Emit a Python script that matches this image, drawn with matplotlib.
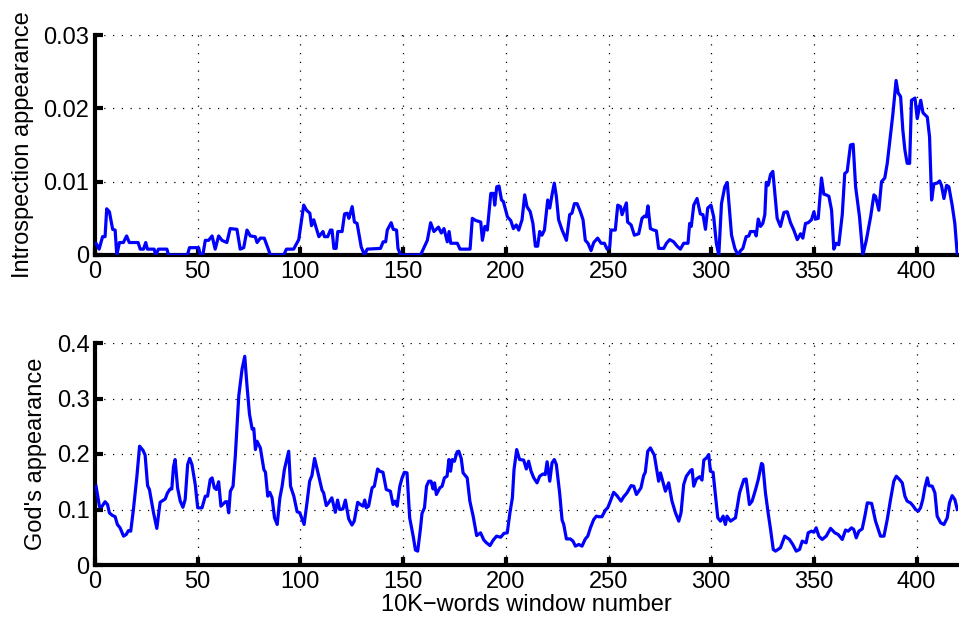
import matplotlib
matplotlib.use("Agg")
import matplotlib.pyplot as plt

plt.rcParams['font.family'] = ['Liberation Sans', 'DejaVu Sans']

# ---- data ----
x_top = [0, 0.5, 2, 3.7, 4.9, 5.7, 7, 8.6, 9.8, 10.6, 11.9, 13.8, 15.4, 16.7, 21, 22, 23.6, 24.7, 25.5, 28.8,
         29.6, 30.9, 35, 35.8, 45, 46, 50.4, 51.3, 52.5, 53.7, 55.3, 57, 58.5, 60.2, 61.8, 64.2, 65.8, 69.1,
         70.7, 72.4, 74, 75.6, 78, 78.9, 80.5, 82.4, 85.4, 91.9, 93.2, 96.7, 99.2, 101.6, 103, 104.6, 105.4,
         106.5, 109, 111, 111.7, 113.3, 114.6, 115.4, 116.3, 117.4, 118.2, 120.3, 121.5, 122.8, 123.6, 125.2,
         126.3, 127.6, 129.6, 131.2, 132.5, 139, 140.3, 141.5, 142.3, 144.2, 145.2, 146.8, 147.5, 148.8, 158.5,
         161.8, 163.4, 165, 167.2, 168.6, 169.9, 171.5, 172.4, 173.2, 176.4, 177.7, 182.6, 183.7, 185.4, 187.8,
         188.6, 189.8, 191, 192.7, 194, 194.6, 195.6, 196.7, 197.9, 198.8, 200.8, 202.4, 203.7, 205.1, 206.3,
         207.9, 209.2, 210.3, 211.9, 213.2, 214.4, 215.5, 216.5, 217.6, 218.8, 220.4, 221.4, 222.5, 223.6,
         224.6, 225.7, 227.4, 229.5, 231.1, 232.2, 233.4, 234.7, 236.3, 237.6, 238.7, 240, 241.5, 242.8, 244.7,
         246.4, 248, 249.3, 250.6, 251.2, 253.3, 254.5, 255.8, 256.6, 258.7, 259.3, 261, 262.6, 264.7, 266.3,
         267.5, 268.4, 269.2, 270.4, 272, 273.3, 274.4, 276.9, 278.2, 279.8, 281.7, 283.4, 285, 286.6, 288.7,
         289.5, 290.3, 291.5, 293.1, 294.7, 296, 297.2, 298.3, 299.9, 301.2, 302.5, 303.7, 305, 306.6, 307.8,
         308.9, 309.9, 311.5, 313, 314.3, 315.4, 317, 318.3, 319.1, 321.2, 321.9, 322.9, 324, 325.1, 326.1,
         326.8, 327.7, 328.9, 330, 331, 332.1, 333.7, 335.4, 337, 338.6, 340.2, 341.9, 343.5, 344.6, 345.9,
         347.2, 348.8, 350, 350.8, 352.1, 353.7, 354.8, 356, 357.3, 358.6, 359.7, 360.8, 362.1, 363.8, 365,
         366.2, 367.8, 369.1, 370.3, 372.2, 373.8, 375.5, 377.6, 379.2, 380, 381.6, 382.9, 384.5, 385.7, 386.8,
         388.4, 390, 391, 392.2, 393.3, 394.3, 395.4, 396.6, 397.5, 399.2, 400.3, 402, 403.1, 405.2, 406.3,
         407.3, 408.4, 410, 411.2, 412.1, 413.3, 414.6, 415.7, 417.3, 418.6, 419.8]
introspection = [0.0016, 0.0016, 0.0008, 0.0025, 0.0025, 0.0063, 0.0059, 0.0035, 0.0034, 0.0, 0.0017, 0.0017,
                 0.0026, 0.0017, 0.0017, 0.0008, 0.0008, 0.0017, 0.0008, 0.0008, 0.0, 0.0008, 0.0008, 0.0, 0.0,
                 0.001, 0.001, 0.0, 0.0, 0.002, 0.002, 0.0026, 0.0008, 0.0026, 0.002, 0.0017, 0.0036, 0.0035,
                 0.0008, 0.001, 0.0034, 0.0026, 0.0025, 0.0017, 0.0023, 0.0023, 0.0, 0.0, 0.0008, 0.0008, 0.0021,
                 0.0068, 0.0061, 0.0057, 0.004, 0.0048, 0.0025, 0.0032, 0.0025, 0.0025, 0.0034, 0.0034, 0.0009,
                 0.0009, 0.0032, 0.0032, 0.0056, 0.0057, 0.005, 0.0066, 0.0045, 0.0043, 0.0011, 0.0, 0.0008,
                 0.0009, 0.0018, 0.0018, 0.0034, 0.0044, 0.0035, 0.0034, 0.0009, 0.0, 0.0, 0.002, 0.0044, 0.0032,
                 0.0038, 0.003, 0.0036, 0.0018, 0.0032, 0.0016, 0.0016, 0.0008, 0.0008, 0.005, 0.0047, 0.0045,
                 0.002, 0.0039, 0.0034, 0.0084, 0.0084, 0.0068, 0.0093, 0.0094, 0.0075, 0.0073, 0.0052, 0.0047,
                 0.0036, 0.0041, 0.0034, 0.0048, 0.0082, 0.0066, 0.0059, 0.0043, 0.0012, 0.0012, 0.0032, 0.0027,
                 0.0034, 0.0075, 0.0064, 0.0082, 0.0098, 0.008, 0.0048, 0.0034, 0.002, 0.0055, 0.0057, 0.007,
                 0.007, 0.0059, 0.0048, 0.002, 0.0016, 0.0006, 0.0017, 0.0023, 0.0016, 0.0016, 0.0008, 0.0011,
                 0.0034, 0.0034, 0.0068, 0.0066, 0.0055, 0.0071, 0.0045, 0.0041, 0.0027, 0.0029, 0.005, 0.0053,
                 0.0052, 0.0067, 0.0036, 0.0034, 0.0033, 0.0009, 0.0009, 0.0016, 0.0021, 0.0018, 0.0012, 0.0008,
                 0.0016, 0.0016, 0.0043, 0.0039, 0.0068, 0.0077, 0.0056, 0.0055, 0.0035, 0.0064, 0.0068, 0.0052,
                 0.0016, 0.0, 0.007, 0.0093, 0.0099, 0.0061, 0.0027, 0.0009, 0.0, 0.0006, 0.0009, 0.0025, 0.0026,
                 0.0032, 0.0032, 0.0026, 0.0049, 0.0039, 0.0043, 0.0055, 0.0099, 0.0095, 0.011, 0.0114, 0.0084,
                 0.005, 0.0039, 0.0058, 0.0059, 0.0044, 0.0034, 0.0021, 0.0029, 0.0023, 0.0043, 0.0044, 0.0048,
                 0.0059, 0.0049, 0.005, 0.0105, 0.0083, 0.0082, 0.008, 0.0061, 0.0008, 0.0016, 0.0014, 0.0055,
                 0.0111, 0.0114, 0.015, 0.0151, 0.0093, 0.0052, 0.0, 0.002, 0.0052, 0.0082, 0.008, 0.0061, 0.01,
                 0.0105, 0.0125, 0.0152, 0.0191, 0.0238, 0.0221, 0.0216, 0.017, 0.0143, 0.0125, 0.0125, 0.0211,
                 0.0214, 0.0186, 0.0211, 0.0194, 0.0188, 0.0161, 0.0075, 0.0097, 0.0098, 0.0101, 0.0095, 0.0077,
                 0.0095, 0.0093, 0.0068, 0.0043, 0.0]

x_bottom = [0.5, 2.2, 3.3, 4.9, 6.1, 7, 8.2, 9.8, 10.9, 12.2, 13.9, 15.2, 16.3, 17.4, 18.7, 20.4, 21.7, 23.3,
            24.4, 25.6, 26.5, 28.5, 30.1, 31.7, 34.2, 35.3, 36.6, 37.4, 38.2, 39, 40.2, 41.5, 42.8, 43.9, 45.1,
            46.1, 47.2, 48.8, 50, 52.1, 53.7, 54.8, 56.1, 57, 58.1, 59.1, 60.2, 61.3, 63.5, 64.3, 65.1, 65.9,
            67.2, 68.3, 70, 71.6, 72.9, 74, 75.2, 76.5, 77.3, 78.1, 78.9, 80.5, 82.2, 83, 84.1, 85.1, 86.2, 87.4,
            88.7, 90, 91.1, 92.2, 94.3, 95.2, 96.8, 98.4, 99.7, 101.8, 103.2, 104.5, 105.6, 106.9, 108, 109.3,
            110.5, 111.3, 112.6, 113.7, 115.3, 117, 118.1, 119.1, 120.7, 121.9, 123.5, 125.1, 126.2, 127.9,
            129.2, 130.5, 131.3, 132.1, 133.2, 134.9, 136, 137.6, 138.6, 140.2, 141.8, 143.8, 145.1, 146.2,
            147.1, 148.4, 149.5, 150.6, 151.9, 153.2, 154.9, 156, 157.1, 158.4, 159.2, 160.4, 161.4, 162.5,
            163.6, 164.6, 165.3, 166.2, 167.9, 169, 170.1, 171.4, 172.3, 173.1, 173.9, 175, 176.3, 177.1, 178.3,
            179.2, 181.2, 182.5, 184.1, 185.8, 187.7, 189.3, 190.6, 192.3, 193.9, 195.5, 197.5, 199.1, 200.7,
            202, 203.2, 204, 205.3, 206.7, 208.7, 210, 211.1, 212.3, 213.6, 215.2, 216.5, 218.1, 219.2, 220.1,
            221.4, 222.5, 223.6, 224.6, 226.2, 227.4, 228.2, 229.5, 231.4, 232.7, 233.9, 235.5, 237.1, 238.7,
            239.9, 241.2, 242.8, 244.1, 245.2, 246.8, 248.5, 249.6, 250.9, 252.5, 254.1, 256.1, 257.4, 259, 261,
            262.3, 263.6, 264.7, 265.8, 267.1, 267.9, 269.1, 270.4, 272.3, 274.4, 275.3, 276.6, 277.7, 279.3,
            280.9, 282.6, 284.2, 285.3, 286.6, 287.9, 289.9, 290.7, 291.5, 292.8, 294.4, 295.5, 296.4, 297.7,
            298.8, 299.6, 300.9, 302, 303.2, 304.5, 305.8, 306.9, 307.7, 309.4, 311.8, 313.8, 315.9, 317, 318.6,
            319.9, 321.6, 322.9, 324.5, 325.1, 326.4, 327.7, 328.9, 330.2, 331.3, 333.7, 335.8, 338.1, 339.7,
            341.4, 343, 344.3, 346.2, 347.2, 348.8, 350, 351.1, 352.4, 354, 356, 358.1, 360.2, 361.8, 363.8,
            365.4, 366.7, 368.3, 369.4, 370.6, 371.9, 373.5, 374.8, 376, 378.1, 380, 382.4, 384.1, 385.7, 387.3,
            388.9, 390.1, 391.7, 393, 394.3, 395.4, 397, 398.2, 399.5, 400.8, 401.9, 403, 404, 405.2, 406, 407.6,
            408.9, 410, 411.7, 413.3, 414.9, 416, 417.3, 418.6, 419.8]
god = [0.142, 0.105, 0.105, 0.114, 0.109, 0.094, 0.09, 0.087, 0.073, 0.067, 0.052, 0.055, 0.062, 0.061, 0.1,
       0.16, 0.214, 0.207, 0.198, 0.143, 0.136, 0.094, 0.066, 0.113, 0.119, 0.13, 0.137, 0.137, 0.177, 0.19,
       0.139, 0.115, 0.104, 0.118, 0.181, 0.192, 0.181, 0.145, 0.103, 0.103, 0.124, 0.124, 0.154, 0.157, 0.139,
       0.136, 0.15, 0.106, 0.114, 0.114, 0.094, 0.133, 0.142, 0.196, 0.305, 0.353, 0.376, 0.323, 0.272, 0.245,
       0.246, 0.208, 0.223, 0.211, 0.172, 0.167, 0.124, 0.131, 0.121, 0.085, 0.073, 0.121, 0.142, 0.172, 0.205,
       0.142, 0.124, 0.096, 0.094, 0.073, 0.112, 0.151, 0.161, 0.192, 0.175, 0.154, 0.135, 0.13, 0.107, 0.112,
       0.121, 0.095, 0.117, 0.1, 0.101, 0.117, 0.083, 0.072, 0.079, 0.113, 0.109, 0.106, 0.117, 0.103, 0.106,
       0.139, 0.142, 0.173, 0.169, 0.167, 0.136, 0.133, 0.109, 0.115, 0.106, 0.142, 0.157, 0.167, 0.166, 0.085,
       0.052, 0.027, 0.025, 0.064, 0.093, 0.103, 0.142, 0.151, 0.151, 0.137, 0.148, 0.127, 0.139, 0.142, 0.157,
       0.16, 0.19, 0.169, 0.19, 0.187, 0.204, 0.205, 0.192, 0.166, 0.157, 0.115, 0.088, 0.053, 0.058, 0.045,
       0.04, 0.035, 0.045, 0.052, 0.05, 0.057, 0.058, 0.094, 0.121, 0.172, 0.208, 0.19, 0.189, 0.173, 0.187,
       0.169, 0.157, 0.148, 0.16, 0.164, 0.163, 0.186, 0.151, 0.184, 0.19, 0.181, 0.13, 0.081, 0.073, 0.047,
       0.047, 0.043, 0.034, 0.037, 0.034, 0.047, 0.052, 0.067, 0.082, 0.088, 0.087, 0.087, 0.099, 0.103, 0.115,
       0.131, 0.125, 0.115, 0.123, 0.13, 0.143, 0.142, 0.127, 0.133, 0.139, 0.161, 0.167, 0.205, 0.211, 0.198,
       0.151, 0.166, 0.148, 0.133, 0.148, 0.115, 0.094, 0.079, 0.094, 0.145, 0.16, 0.17, 0.172, 0.142, 0.155,
       0.159, 0.153, 0.189, 0.193, 0.199, 0.169, 0.167, 0.127, 0.085, 0.079, 0.088, 0.073, 0.088, 0.079, 0.085,
       0.13, 0.154, 0.155, 0.109, 0.115, 0.136, 0.154, 0.183, 0.181, 0.13, 0.094, 0.064, 0.028, 0.025, 0.031,
       0.052, 0.046, 0.037, 0.025, 0.028, 0.043, 0.04, 0.058, 0.061, 0.059, 0.067, 0.052, 0.046, 0.052, 0.066,
       0.058, 0.055, 0.046, 0.063, 0.061, 0.067, 0.064, 0.049, 0.061, 0.065, 0.088, 0.112, 0.111, 0.079, 0.052,
       0.052, 0.082, 0.118, 0.151, 0.16, 0.154, 0.148, 0.124, 0.115, 0.112, 0.107, 0.1, 0.097, 0.103, 0.118,
       0.139, 0.157, 0.143, 0.142, 0.13, 0.088, 0.076, 0.073, 0.085, 0.112, 0.125, 0.118, 0.1]

x_ticks = [0, 50, 100, 150, 200, 250, 300, 350, 400]
top_yticks = [0, 0.01, 0.02, 0.03]
top_yticklabels = ['0', '0.01', '0.02', '0.03']
bottom_yticks = [0, 0.1, 0.2, 0.3, 0.4]
bottom_yticklabels = ['0', '0.1', '0.2', '0.3', '0.4']

W, H = 959, 623
fig = plt.figure(figsize=(W / 100, H / 100), dpi=100)

left = 95 / W
width = (957.7 - 95) / W
ax1 = fig.add_axes([left, 1 - 255 / H, width, (255 - 35) / H])
ax2 = fig.add_axes([left, 1 - 565 / H, width, (565 - 343) / H])

FS = 17


def style(ax, yticks, ylabels, ylim, ylabel):
    ax.set_xlim(0, 420)
    ax.set_ylim(*ylim)
    ax.set_xticks(x_ticks)
    ax.set_xticklabels([str(t) for t in x_ticks])
    ax.set_yticks(yticks)
    ax.set_yticklabels(ylabels)
    for s in ['top', 'right']:
        ax.spines[s].set_visible(False)
    for s in ['left', 'bottom']:
        ax.spines[s].set_linewidth(3.0)
        ax.spines[s].set_color('black')
    ax.tick_params(direction='in', length=5.5, width=3.0, labelsize=FS, colors='black')
    ax.tick_params(axis='x', pad=4)
    ax.tick_params(axis='y', pad=4)
    ax.grid(True, color='black', linestyle=(0, (1, 6)), linewidth=0.9)
    ax.set_axisbelow(True)
    ax.set_ylabel(ylabel, fontsize=FS, labelpad=7)


ax1.plot(x_top, introspection, color='#0000ff', linewidth=2.3, zorder=3)
style(ax1, top_yticks, top_yticklabels, (0, 0.03), 'Introspection appearance')

ax2.plot(x_bottom, god, color='#0000ff', linewidth=2.3, zorder=3)
style(ax2, bottom_yticks, bottom_yticklabels, (0, 0.4), "God's appearance")
ax2.set_xlabel('10K\u2212words window number', fontsize=FS, labelpad=1)

fig.savefig('out.png', dpi=100)
